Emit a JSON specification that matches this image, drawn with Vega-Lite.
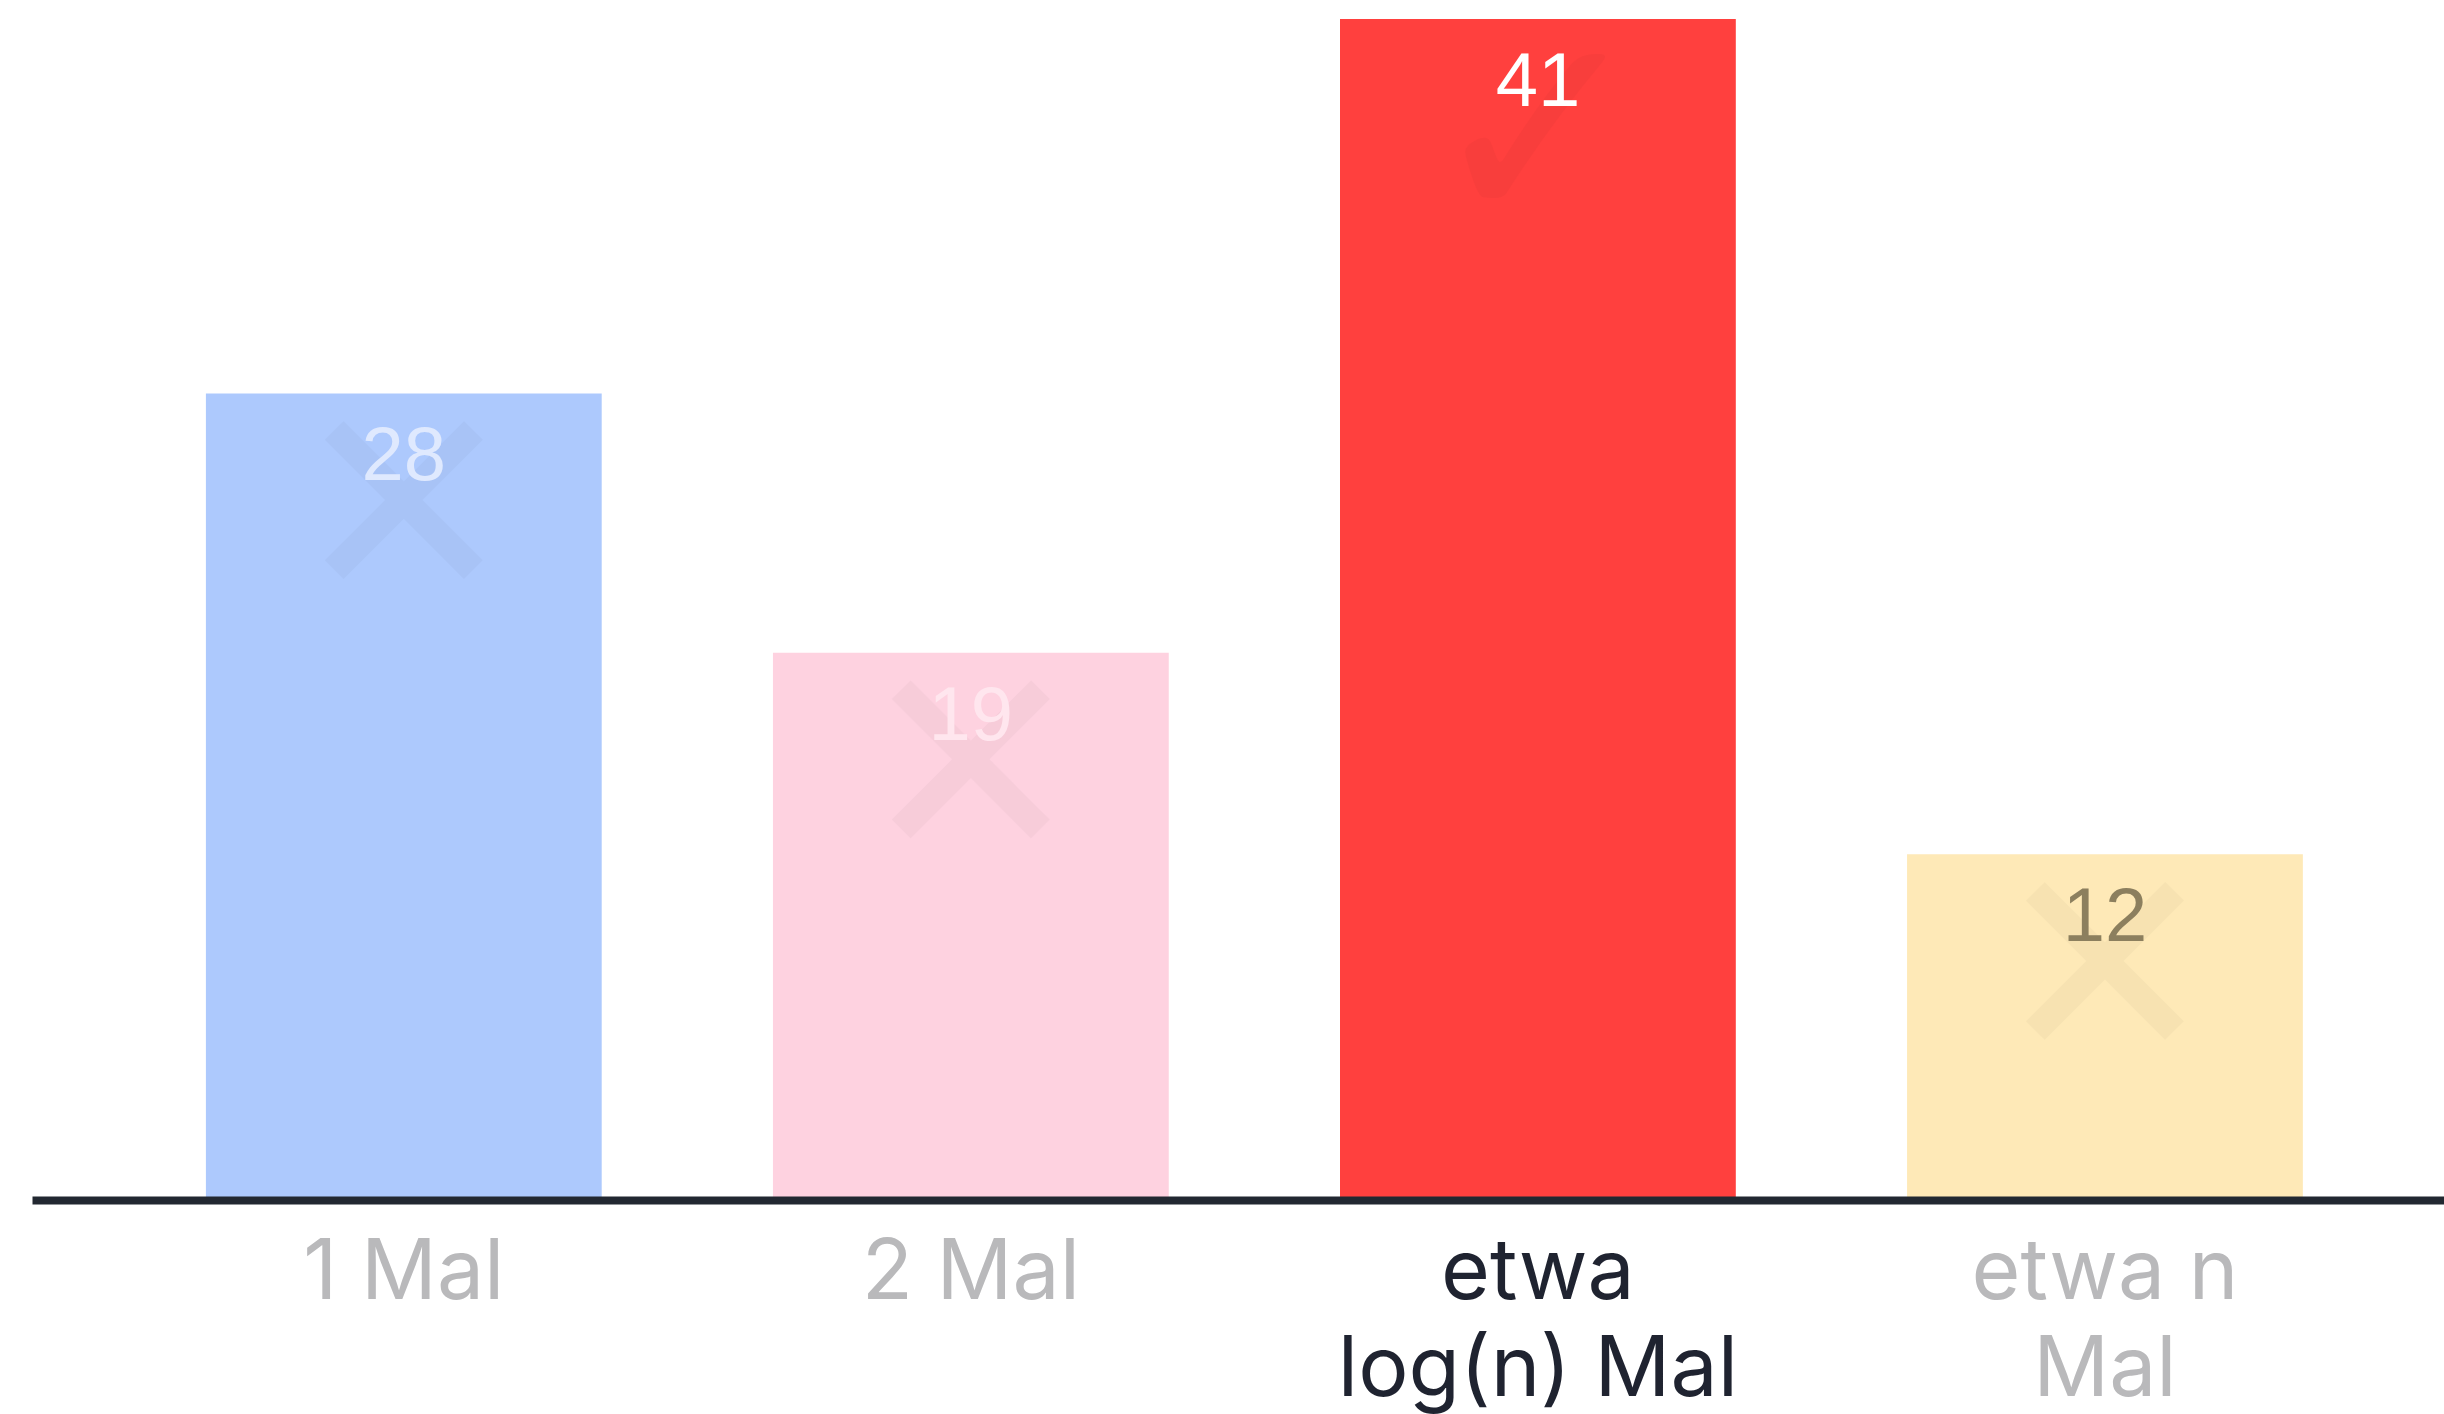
{
  "$schema": "https://vega.github.io/schema/vega-lite/v6.json",
  "autosize": "none",
  "width": 2412,
  "height": 1181,
  "padding": {"left": 32, "top": 19, "right": 0, "bottom": 214},
  "background": "#ffffff",
  "config": {"view": {"stroke": null}},
  "data": {
    "values": [
      {"k": "1 Mal", "v": 28},
      {"k": "2 Mal", "v": 19},
      {"k": "etwa log(n) Mal", "v": 41},
      {"k": "etwa n Mal", "v": 12}
    ]
  },
  "encoding": {
    "x": {
      "field": "k",
      "type": "nominal",
      "sort": null,
      "scale": {"paddingInner": 0.302, "paddingOuter": 0.2778, "align": 0.552},
      "axis": {
        "title": null,
        "labelAngle": 0,
        "ticks": false,
        "tickSize": 0,
        "domain": true,
        "domainColor": "#222831",
        "domainWidth": 8,
        "domainCap": "butt",
        "zindex": 2,
        "labelFont": "Inter",
        "labelFontSize": 84,
        "labelFontWeight": "normal",
        "labelLimit": 0,
        "labelBaseline": "alphabetic",
        "labelPadding": 98,
        "labelLineHeight": 97,
        "labelExpr": "datum.label == 'etwa log(n) Mal' ? ['etwa', 'log(n) Mal'] : datum.label == 'etwa n Mal' ? ['etwa n', 'Mal'] : datum.label",
        "labelColor": {"condition": {"test": "datum.value == 'etwa log(n) Mal'", "value": "#1f2330"}, "value": "#b9b9bb"}
      }
    },
    "y": {"field": "v", "type": "quantitative", "scale": {"domain": [0, 41], "nice": false}, "axis": null}
  },
  "layer": [
    {
      "mark": {"type": "bar"},
      "encoding": {
        "color": {
          "field": "k",
          "type": "nominal",
          "legend": null,
          "scale": {
            "domain": ["1 Mal", "2 Mal", "etwa log(n) Mal", "etwa n Mal"],
            "range": ["#adc9fd", "#fed2e0", "#ff403e", "#fee9b7"]
          }
        }
      }
    },
    {
      "mark": {"type": "text", "font": "DejaVu Sans", "fontSize": 270, "baseline": "middle", "align": "center", "dy": 124, "color": "#000000", "opacity": 0.022},
      "encoding": {
        "text": {"condition": {"test": "datum.k == 'etwa log(n) Mal'", "value": "✓"}, "value": "✕"}
      }
    },
    {
      "mark": {"type": "text", "font": "Liberation Sans", "fontSize": 76, "baseline": "alphabetic", "align": "center", "dy": 87},
      "encoding": {
        "text": {"field": "v", "type": "quantitative"},
        "color": {
          "condition": [
            {"test": "datum.k == 'etwa log(n) Mal'", "value": "#ffffff"},
            {"test": "datum.k == 'etwa n Mal'", "value": "#8c7f5e"},
            {"test": "datum.k == '1 Mal'", "value": "#dfe9fe"}
          ],
          "value": "#ffe6ee"
        }
      }
    }
  ]
}
